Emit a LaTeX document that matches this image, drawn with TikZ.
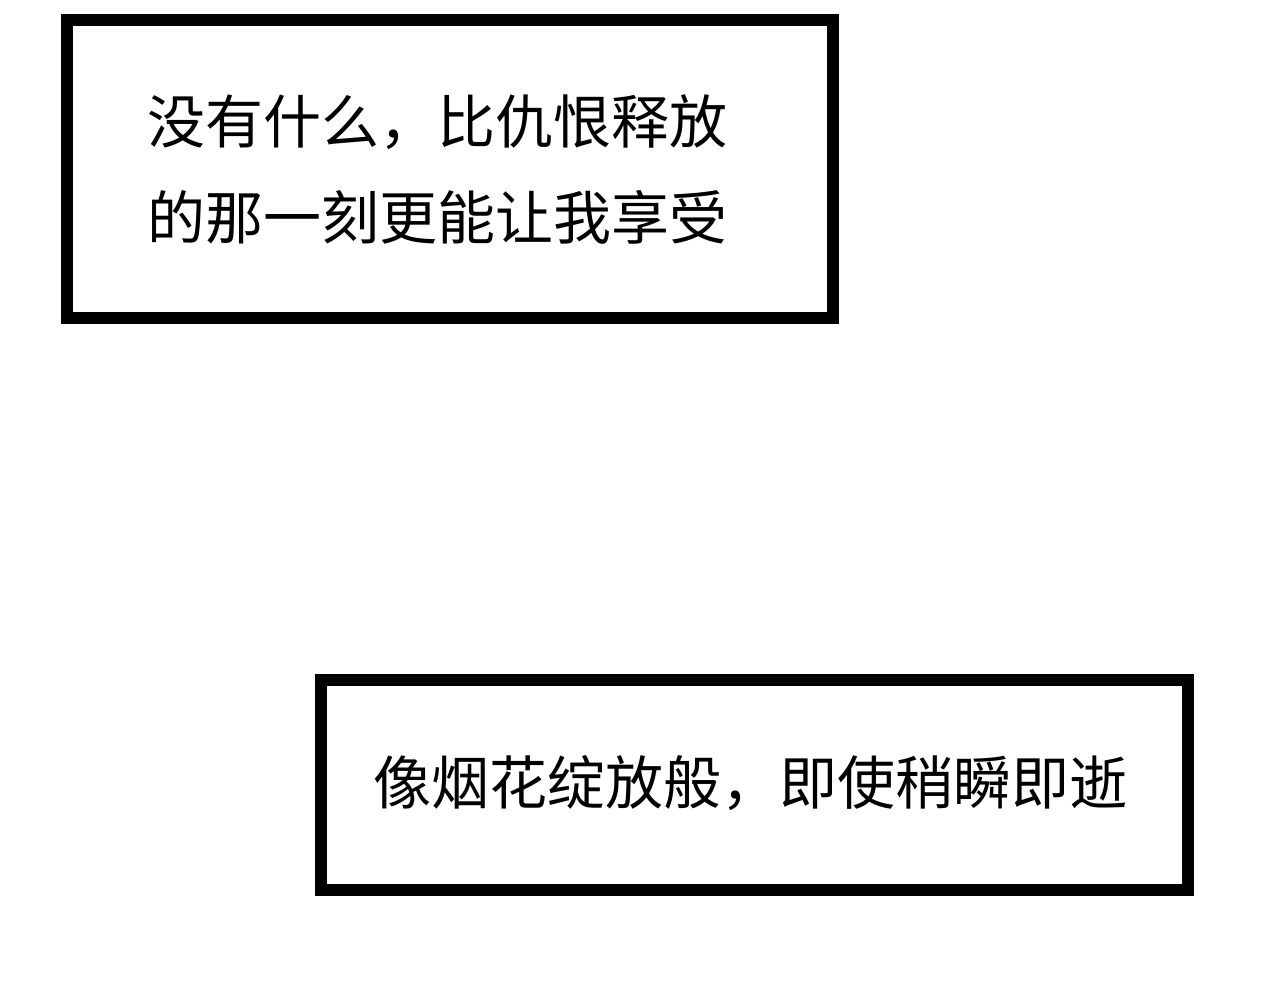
\documentclass[tikz,border=0pt]{standalone}
\usepackage{fontspec}
\newfontfamily\cjk{Noto Sans CJK SC}
\begin{document}
\begin{tikzpicture}[x=1pt,y=-1pt,
  panel/.style={draw=black,line width=11.5pt,fill=white,inner sep=0pt,outer sep=0pt,anchor=center},
  caption/.style={font=\cjk\fontsize{58}{96}\selectfont,inner sep=0pt,anchor=base west,text=black}]
\fill[white] (0,0) rectangle (1280,1000);
\useasboundingbox (0,0) rectangle (1280,1000);
\node[panel,minimum width=766pt,minimum height=298pt] (b1) at (450,169) {};
\node[panel,minimum width=867pt,minimum height=210pt] (b2) at (754.5,785) {};
\node[caption] (t1) at (147,144) {没有什么，比仇恨释放};
\node[caption] (t2) at (147,240) {的那一刻更能让我享受};
\node[caption] (t3) at (373,804) {像烟花绽放般，即使稍瞬即逝};
\end{tikzpicture}
\end{document}
